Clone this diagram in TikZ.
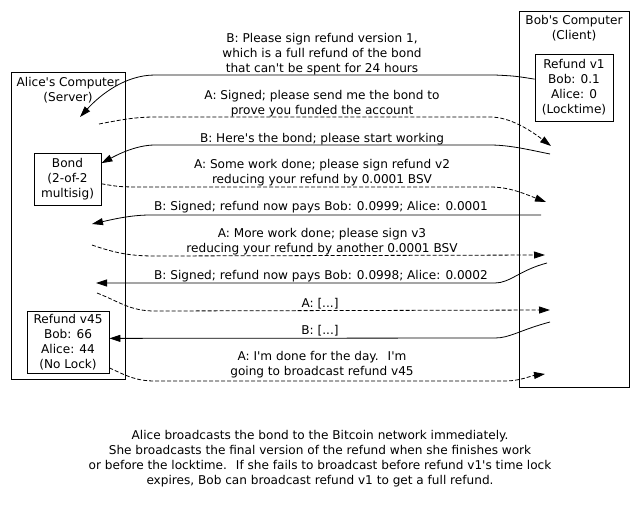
\documentclass[tikz,border=0pt]{standalone}
\usepackage{fontspec}
\setmainfont{DejaVu Sans}[Ligatures=TeXOff]
\usetikzlibrary{arrows.meta}
\begin{document}
\begin{tikzpicture}[x=1pt,y=-1pt,
  txt/.style={font=\fontsize{12.1}{15}\selectfont},
  msg/.style={txt, align=center, anchor=north, inner sep=0pt},
  box/.style={txt, draw, line width=0.8pt, inner sep=0pt, align=center},
  solidarrow/.style={draw, line width=0.8pt, -{Triangle[length=11pt,width=7pt]}},
  dasharrow/.style={solidarrow, dash pattern=on 4pt off 2pt}]
\useasboundingbox (0,0) rectangle (640,525);
% computers
\node[box, minimum width=114.7, minimum height=307] (alice) at (68.3,225.5) {};
\node[msg] (alicet) at (68,77.5) {Alice's Computer\\(Server)};
\node[box, minimum width=110, minimum height=376] (bob) at (574,199) {};
\node[msg] (bobt) at (574,15.5) {Bob's Computer\\(Client)};
% transactions
\node[box, minimum width=78, minimum height=67] (rv1) at (574,87.5) {Refund v1\\Bob: 0.1\\Alice: 0\\(Locktime)};
\node[box, minimum width=67, minimum height=52] (bond) at (67.5,179) {Bond\\(2-of-2\\multisig)};
\node[box, minimum width=82, minimum height=62] (rv45) at (68,342) {Refund v45\\Bob: 66\\Alice: 44\\(No Lock)};
% free ends
\coordinate (a1t) at (80,117);
\coordinate (a2s) at (99,124);   \coordinate (a2t) at (551,146);
\coordinate (a3s) at (550,154);
\coordinate (a4t) at (546,202);
\coordinate (a5s) at (541,215);  \coordinate (a5t) at (92,224);
\coordinate (a6s) at (92,245);   \coordinate (a6t) at (545,255);
\coordinate (a7s) at (547,263);  \coordinate (a7t) at (96,283);
\coordinate (a8s) at (97,293);   \coordinate (a8t) at (550,310);
\coordinate (a9s) at (550,322);
\coordinate (a10t) at (545,374);
% labels
\node[msg] (l1) at (322,32.7) {B: Please sign refund version 1,\\which is a full refund of the bond\\that can't be spent for 24 hours};
\node[msg] (l2) at (322,90) {A: Signed; please send me the bond to\\prove you funded the account};
\node[msg] (l3) at (322,133) {B: Here's the bond; please start working};
\node[msg] (l4) at (322,159) {A: Some work done; please sign refund v2\\reducing your refund by 0.0001 BSV};
\node[msg] (l5) at (321,201) {B: Signed; refund now pays Bob: 0.0999; Alice: 0.0001};
\node[msg] (l6) at (322,228.5) {A: More work done; please sign v3\\reducing your refund by another 0.0001 BSV};
\node[msg] (l7) at (321,270) {B: Signed; refund now pays Bob: 0.0998; Alice: 0.0002};
\node[msg] (l8) at (320,298) {A: [...]};
\node[msg] (l9) at (320,325) {B: [...]};
\node[msg] (l10) at (322,351) {A: I'm done for the day.~ I'm\\going to broadcast refund v45};
\node[msg] (cap) at (320,430) {Alice broadcasts the bond to the Bitcoin network immediately.\\She broadcasts the final version of the refund when she finishes work\\or before the locktime.~ If she fails to broadcast before refund v1's time lock\\expires, Bob can broadcast refund v1 to get a full refund.};
% messages
\path[solidarrow] (rv1.168) .. controls (515,76) .. (495,75) -- (155,75) .. controls (125,75) and (100,95) .. (a1t);
\path[dasharrow] (a2s) .. controls (120,120) and (135,117) .. (155,117) -- (490,117) .. controls (510,117) and (530,130) .. (a2t);
\path[solidarrow] (a3s) .. controls (530,150) and (510,145) .. (490,145) -- (155,145) .. controls (135,145) and (115,156) .. (bond.25);
\path[dasharrow] (bond.-8) .. controls (120,187) .. (150,187) -- (490,187) .. controls (510,187) and (525,194) .. (a4t);
\path[solidarrow] (a5s) -- (150,215) .. controls (130,215) and (110,220) .. (a5t);
\path[dasharrow] (a6s) .. controls (115,253) and (130,256) .. (155,256) -- (a6t);
\path[solidarrow] (a7s) .. controls (520,270) and (510,283) .. (495,283) -- (a7t);
\path[dasharrow] (a8s) .. controls (120,302) and (130,311) .. (155,311) -- (a8t);
\path[solidarrow] (a9s) .. controls (520,330) and (510,338) .. (495,338) -- (rv45.5);
\path[dasharrow] (rv45.-32) .. controls (125,375) and (135,381) .. (155,381) -- (505,381) .. controls (520,381) and (530,376) .. (a10t);
\end{tikzpicture}
\end{document}
